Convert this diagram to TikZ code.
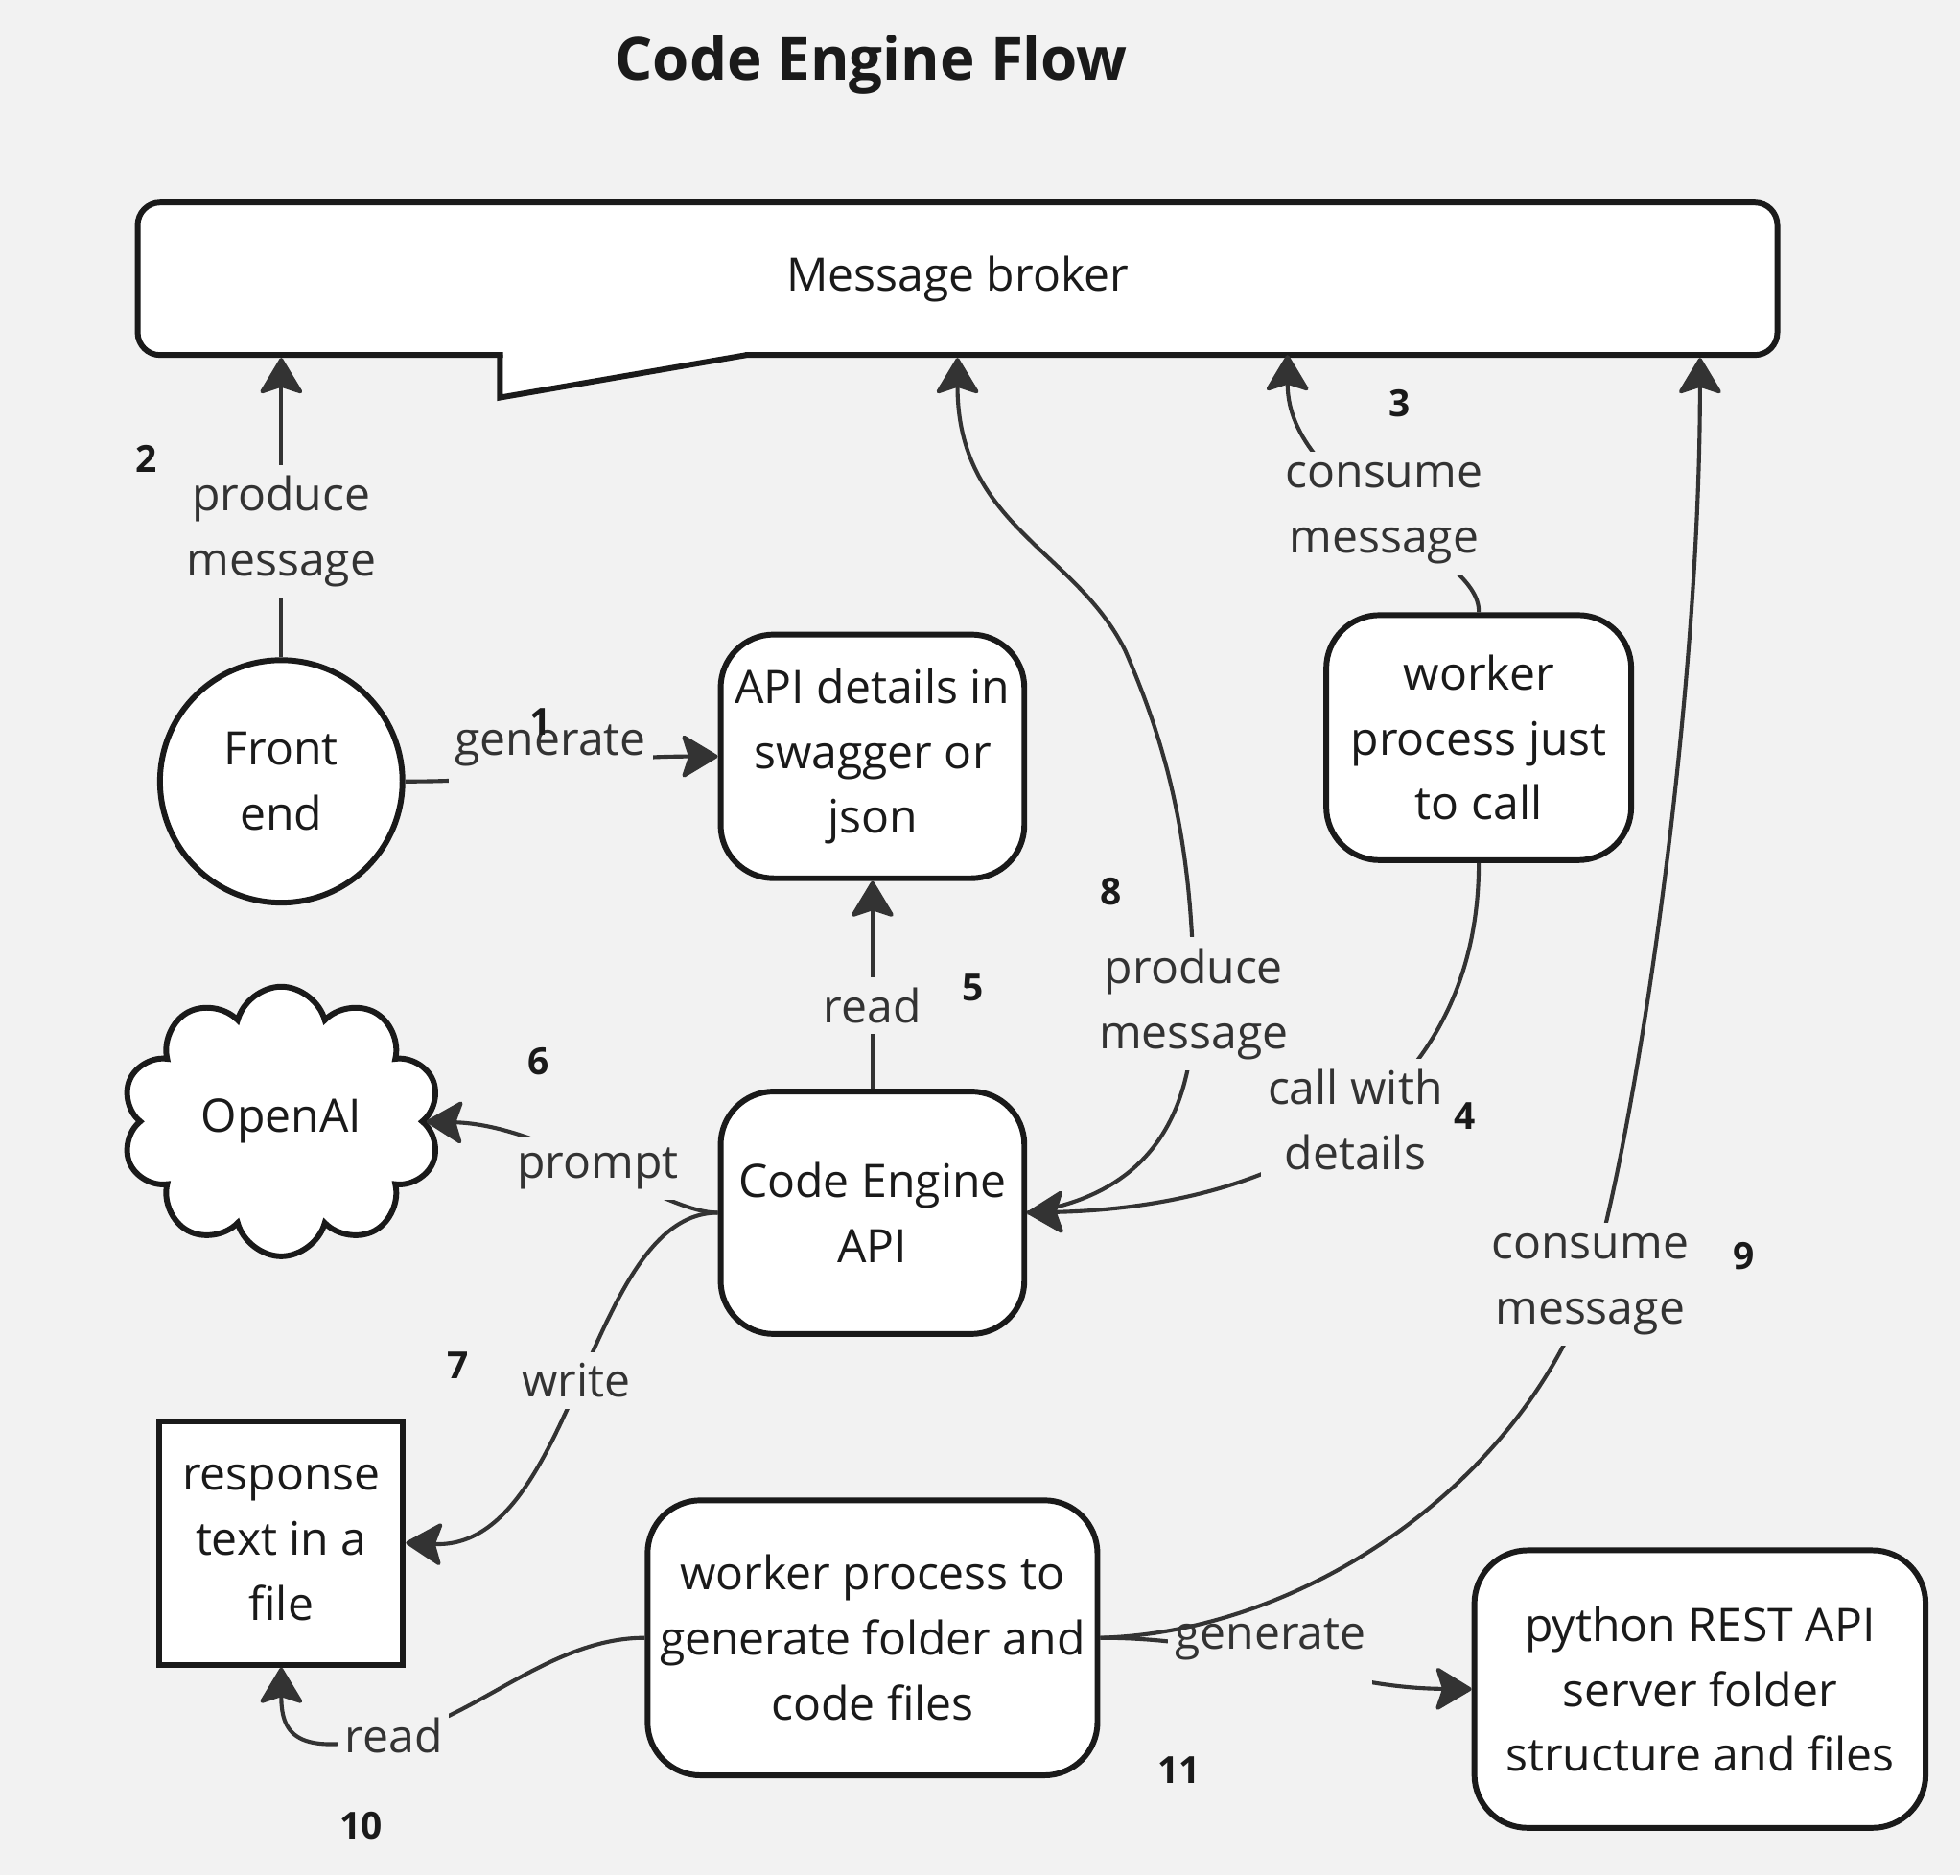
\documentclass[tikz,border=0pt]{standalone}
\usepackage{fontspec}
\setmainfont{Open Sans}
\usetikzlibrary{arrows.meta,shapes.symbols}

\definecolor{bg}{HTML}{F2F2F2}
\definecolor{ink}{HTML}{1A1A1A}
\definecolor{wire}{HTML}{333333}

\newcommand{\bodyfont}{\fontsize{21}{29.6}\selectfont}
\newcommand{\numfont}{\fontsize{17}{20}\selectfont\bfseries}

\tikzset{
  box/.style={draw=ink, fill=white, line width=2.6pt, rounded corners=0.85cm,
    align=center, text=ink, font=\bodyfont, inner sep=0pt},
  flow/.style={draw=wire, line width=1.8pt,
    -{Stealth[length=0.62cm,width=0.74cm,inset=0.12cm,round]}},
  lbl/.style={fill=bg, text=wire, font=\bodyfont, align=center, inner xsep=3pt, inner ysep=5pt},
  tall/.style={inner ysep=13pt},
  num/.style={text=ink, font=\numfont},
}

\begin{document}
\begin{tikzpicture}[x=0.02cm, y=-0.02cm]
  \fill[bg] (0,0) rectangle (1568,1500);
  \useasboundingbox (0,0) rectangle (1568,1500);

  \node[text=ink, font=\fontsize{27}{32}\selectfont\bfseries] (title) at (697,52) {Code Engine Flow};

  % message broker with its tail
  \node[box, rounded corners=0.36cm, minimum width=26.24cm, minimum height=2.44cm] (broker) at (766,223) {Message broker};
  \fill[white] (402.5,270) -- (596,270) -- (596,284.2) -- (402.5,317.6) -- cycle;
  \draw[ink, line width=2.6pt] (400,284) -- (400,318) -- (597,284);
  \coordinate (b3) at (1030,284);

  % nodes
  \node[box, circle, minimum size=3.88cm] (fe) at (225,625) {Front\\end};
  \node[box, minimum width=4.86cm, minimum height=3.9cm] (api) at (698,605) {API details in\\swagger or\\json};
  \node[box, minimum width=4.88cm, minimum height=3.92cm] (wcall) at (1183,590) {worker\\process just\\to call};
  \node[box, sharp corners, cloud, cloud puffs=10, minimum width=5.1cm, minimum height=3.8cm] (openai) at (225,897) {OpenAI};
  \node[box, minimum width=4.86cm, minimum height=3.88cm] (ce) at (698,970) {Code Engine\\API};
  \node[box, sharp corners, minimum width=3.9cm, minimum height=3.9cm] (resp) at (225,1234) {response\\text in a\\file};
  \node[box, minimum width=7.2cm, minimum height=4.4cm] (wgen) at (698,1310) {worker process to\\generate folder and\\code files};
  \node[box, minimum width=7.22cm, minimum height=4.44cm] (py) at (1360,1351) {python REST API\\server folder\\structure and files};

  % connectors
  \draw[flow] (fe.east) .. controls (450,625) and (450,605) .. (api.west) node[lbl, tall, pos=.45, yshift=.4cm] {generate};
  \draw[flow] (fe.north) -- (fe.north |- broker.south) node[lbl, pos=.42] {produce\\message};
  \draw[flow] (wcall.north) .. controls (1185,440) and (1030,397) .. (b3) node[lbl, pos=.5] {consume\\message};
  \draw[flow] (wcall.south) .. controls (1183,870) and (1040,965) .. (ce.east) node[lbl, pos=.5] {call with\\details};
  \draw[flow] (ce.north) -- (api.south) node[lbl, pos=.4] {read};
  \draw[flow] (ce.west) .. controls (530,970) and (440,900) .. (openai.east) node[lbl, pos=.5] {prompt};
  \draw[flow] (ce.west) .. controls (470,970) and (460,1240) .. (resp.east) node[lbl, pos=.5] {write};
  \draw[flow] (ce.east) .. controls (925,955) and (955,885) .. (955,803) node[lbl] {produce\\message}
    .. controls (955,680) and (935,600) .. (900,520) .. controls (860,440) and (766,420) .. (broker.south);
  \draw[flow] (wgen.east) .. controls (1000,1310) and (1060,1350) .. (py.west) node[lbl, tall, pos=.45, yshift=.32cm] {generate};
  \draw[flow] (wgen.east) .. controls (1050,1305) and (1220,1180) .. (1272,1027) node[lbl] {consume\\message}
    .. controls (1310,900) and (1360,560) .. (broker.south -| py.north);
  \draw[flow] (wgen.west) .. controls (440,1310) and (380,1375) .. (315,1388) node[lbl] {read}
    .. controls (240,1405) and (225,1390) .. (resp.south);

  % step numbers
  \node[num] (n1) at (432,577) {1};
  \node[num] (n2) at (117,367) {2};
  \node[num] (n3) at (1120,323) {3};
  \node[num] (n4) at (1172,893) {4};
  \node[num] (n5) at (778,790) {5};
  \node[num] (n6) at (431,849) {6};
  \node[num] (n7) at (366,1092) {7};
  \node[num] (n8) at (889,713) {8};
  \node[num] (n9) at (1395,1005) {9};
  \node[num] (n10) at (289,1460) {10};
  \node[num] (n11) at (943,1416) {11};
\end{tikzpicture}
\end{document}
